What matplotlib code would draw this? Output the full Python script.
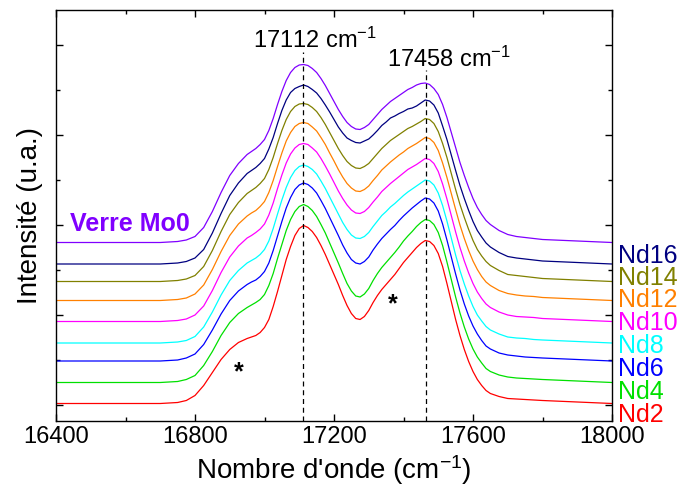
import numpy as np
import matplotlib.pyplot as plt
from matplotlib.ticker import MultipleLocator, NullFormatter
from matplotlib.transforms import blended_transform_factory

plt.rcParams["font.family"] = ["Liberation Sans", "DejaVu Sans"]
plt.rcParams["mathtext.fontset"] = "custom"
plt.rcParams["mathtext.rm"] = "Liberation Sans"
plt.rcParams["mathtext.it"] = "Liberation Sans:italic"
plt.rcParams["mathtext.bf"] = "Liberation Sans:bold"

# wavenumber sampling (cm-1): 25 cm-1 on the wings, 12.5 cm-1 across the band
wavenumber = np.r_[16400, 16550,
                   np.arange(16700, 16950, 25),
                   np.arange(16950, 17650.1, 12.5),
                   np.arange(17675, 17801, 25),
                   17900, 18000]

# intensity above each baseline (a.u.)
nd2 = [0, 0,
       0, 0.5, 1, 3, 8, 18, 31, 44, 54, 61,
       65, 66.5, 68, 71, 76, 84, 97, 112, 128, 144, 157, 168, 175, 178,
       176, 172, 166, 158, 149, 139, 129, 119, 108, 98, 90, 85, 84, 87, 93, 101,
       108, 114, 119, 124, 129, 135, 141, 146, 151, 156, 160, 163, 162, 158, 150,
       137, 120, 102, 84, 68, 54, 42, 32, 24, 18, 13, 10,
       7, 5, 4.5, 4, 3.5, 3, 1.5, 0]
nd4 = [0, 0,
       0, 0.5, 1, 3, 7, 17, 31, 47, 60, 69,
       75, 77.5, 80, 83, 88, 97, 109, 124, 138, 152, 163, 171, 176, 178,
       176, 172, 166, 158, 149.5, 139.5, 129.5, 119.5, 109, 99, 91.5, 86.5, 85.5, 88.5, 94, 102,
       109, 115, 120, 125, 130, 135.5, 141.5, 146.5, 151, 156, 160, 163, 162, 158, 150,
       137, 120.5, 103, 85.5, 69.5, 55.5, 43.5, 33.5, 25.5, 19.5, 14, 11,
       7.5, 5.5, 4.5, 4, 3.5, 3, 1.5, 0]
nd6 = [0, 0,
       0, 0.5, 1, 3, 7, 16.5, 31, 47, 60.5, 70,
       76.5, 79, 81, 84.5, 89.5, 98, 110.5, 125, 139.5, 153, 163.5, 171.5, 176, 178,
       176.5, 173, 168, 160.5, 152.5, 143.5, 134.5, 125.5, 116, 108, 101.5, 98, 97, 99.5, 104, 111,
       117, 122.5, 127, 131.5, 135.5, 140.5, 145, 149, 153, 156.5, 160, 163, 162, 158, 150,
       137, 121, 104, 87, 71, 57, 45, 35, 27, 20.5, 15, 12,
       8, 6, 5, 4, 3.5, 3, 1.5, 0]
nd8 = [0, 0,
       0, 0.5, 1, 2.5, 6.5, 16, 31, 48, 62.5, 72.5,
       80, 82.5, 85, 88.5, 93.5, 102, 114.5, 129, 143, 155.5, 165.5, 172.5, 176.5, 178,
       176.5, 173.5, 169, 162, 154.5, 146, 137.5, 129, 120.5, 113.5, 108, 105, 104.5, 106.5, 110.5, 116.5,
       122, 127.5, 131.5, 136, 139.5, 143.5, 147.5, 151, 154, 157, 160, 163, 162, 158, 150,
       137.5, 122, 105, 88, 72.5, 59, 47, 36.5, 28, 22, 16.5, 13,
       9, 6, 5, 4.5, 3.5, 3, 1.5, 0]
nd10 = [0, 0,
        0, 0.5, 1, 2.5, 6.5, 15.5, 31, 49, 64.5, 75.5,
        83.5, 86, 89, 92.5, 97.5, 106.5, 118.5, 133, 146.5, 158.5, 167.5, 173.5, 177, 178,
        177, 173.5, 169.5, 163, 155.5, 147.5, 139, 130.5, 123, 116.5, 111.5, 108.5, 108, 110, 114, 119.5,
        124.5, 130, 134, 138, 141.5, 145, 148.5, 152, 154.5, 157, 160, 163, 162, 158, 150,
        137.5, 122.5, 106, 89.5, 74, 60.5, 48.5, 38, 29.5, 23, 17.5, 14,
        9.5, 6.5, 5, 4.5, 4, 3, 1.5, 0]
nd12 = [0, 0,
        0, 0.5, 1, 2.5, 6.5, 15.5, 31, 49, 65, 76.5,
        84.5, 87.5, 90, 94, 99, 108, 120, 134, 147.5, 159.5, 168, 174, 177, 178,
        177, 173.5, 169.5, 163, 156, 147.5, 139.5, 131, 123.5, 117, 112.5, 109.5, 109, 111, 114.5, 120,
        125, 130.5, 134.5, 138.5, 142, 145.5, 148.5, 152, 154.5, 157, 160, 163, 162, 158, 150,
        137.5, 123, 107, 91, 75.5, 62, 50, 39.5, 31, 24, 18.5, 15,
        10, 7, 5.5, 4.5, 4, 3, 1.5, 0]
nd14 = [0, 0,
        0, 0.5, 1, 2.5, 6, 15, 31, 50, 67, 79,
        88, 91, 94, 98, 103, 112, 124, 138, 151, 162, 170, 175, 177.5, 178,
        177, 174, 170, 164, 157, 149, 141, 133, 126, 120, 116, 113.5, 113, 115, 118, 123,
        128, 133, 137, 141, 144, 147, 150, 153, 155, 157.5, 160, 163, 162, 158, 150,
        138, 124, 108, 92, 77, 64, 52, 41, 32, 25.5, 20, 16,
        11, 7, 6, 5, 4, 3, 1.5, 0]
nd16 = [0, 0,
        0, 0.5, 1, 2.5, 6, 14.5, 31, 50.5, 68.5, 81,
        90.5, 93.5, 96.5, 100.5, 105.5, 115, 126.5, 140.5, 153.5, 164, 171.5, 175.5, 177.5, 179,
        177.5, 174.5, 171, 165.5, 159, 152, 144.5, 137, 131, 126, 123.5, 121.5, 121, 123, 125, 129,
        133.5, 138.5, 142, 146, 148, 150.5, 152.5, 155, 156, 158, 161, 164, 163, 159, 151,
        138, 124.5, 109, 93.5, 78.5, 65.5, 53.5, 42.5, 33.5, 27, 21, 17,
        11.5, 7.5, 6, 5, 4, 3, 1.5, 0]
mo0 = [0, 0,
       0, 0.5, 1, 2.5, 6, 15, 31, 50, 67, 79,
       88, 91, 94, 98, 103, 112, 124, 138, 151, 162, 170, 175, 177.5, 178,
       177, 174, 170, 164, 157, 149, 141, 133, 126, 120, 116, 113.5, 113, 115, 118, 123,
       128, 133, 137, 141, 144, 147, 150, 153, 155, 157.5, 159, 159.5, 158, 154, 148,
       138, 125, 110, 95, 80, 67, 55, 44, 35, 28, 22, 18,
       12, 8, 6, 5, 4, 3, 1.5, 0]

series = [nd2, nd4, nd6, nd8, nd10, nd12, nd14, nd16, mo0]
offsets = [1.5, 22.5, 44, 62, 83.5, 104.5, 123.5, 141, 162.5]
names = ["Nd2", "Nd4", "Nd6", "Nd8", "Nd10", "Nd12", "Nd14", "Nd16", "Verre Mo0"]
colors = ["#FF0000", "#00E000", "#0000FF", "#00FFFF", "#FF00FF",
          "#FF8000", "#808000", "#000080", "#8000FF"]
label_y = [-10, 13, 36, 59, 82, 105, 127, 149]

peaks = [17112, 17465]
peak_labels = ["17112 cm$^{-1}$", "17458 cm$^{-1}$"]

fig = plt.figure(figsize=(6.84, 4.98), dpi=100)
ax = fig.add_axes([56 / 684, 77 / 498, 556 / 684, 411 / 498])

for y, off, c in zip(series, offsets, colors):
    ax.plot(wavenumber, np.array(y) + off, color=c, lw=0.9)

# dashed markers at the two maxima
ax.vlines(peaks[0], -16, 353, colors="k", linestyles=(0, (4, 3)), lw=0.9)
ax.vlines(peaks[1], -16, 335, colors="k", linestyles=(0, (4, 3)), lw=0.9)
ax.text(16967, 357, peak_labels[0], fontsize=17, ha="left", va="baseline")
ax.text(17352, 338, peak_labels[1], fontsize=17, ha="left", va="baseline")

ax.text(16925, 33, "*", fontsize=18, ha="center", va="center", fontweight="bold")
ax.text(17370, 101, "*", fontsize=18, ha="center", va="center", fontweight="bold")

ax.text(16440, 181, names[-1], color=colors[-1], fontsize=18, fontweight="bold",
        ha="left", va="center")

trans = blended_transform_factory(ax.transAxes, ax.transData)
for name, c, ly in zip(names[:-1], colors[:-1], label_y):
    ax.text(1.01, ly, name, color=c, fontsize=18, ha="left", va="center",
            transform=trans, clip_on=False)

ax.set_xlim(16400, 18000)
ax.set_ylim(-16, 395)
ax.xaxis.set_major_locator(MultipleLocator(400))
ax.xaxis.set_minor_locator(MultipleLocator(200))
ax.yaxis.set_major_locator(MultipleLocator(90))
ax.yaxis.set_minor_locator(MultipleLocator(45))
ax.yaxis.set_major_formatter(NullFormatter())
ax.tick_params(which="both", direction="in", top=True, right=True, width=1.0)
ax.tick_params(which="major", length=5, labelsize=17)
ax.tick_params(which="minor", length=3)
for s in ax.spines.values():
    s.set_linewidth(1.0)

ax.set_xlabel("Nombre d'onde (cm$^{-1}$)", fontsize=20, labelpad=4)
ax.set_ylabel("Intensité (u.a.)", fontsize=20, labelpad=6)

fig.savefig("out.png", dpi=100)
